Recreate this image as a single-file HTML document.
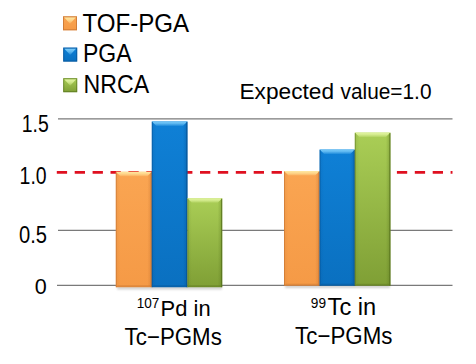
<!DOCTYPE html>
<html><head><meta charset="utf-8">
<style>
html,body{margin:0;padding:0;background:#fff;}
body{width:476px;height:364px;overflow:hidden;font-family:"Liberation Sans",sans-serif;}
svg{display:block;}
text{font-family:"Liberation Sans",sans-serif;fill:#000;}
</style></head><body>
<svg width="476" height="364" viewBox="0 0 476 364">
<defs><linearGradient id="go" x1="0" y1="0" x2="0" y2="1"><stop offset="0" stop-color="#FAA552"/><stop offset="1" stop-color="#F59A46"/></linearGradient><linearGradient id="to" x1="0" y1="0" x2="0" y2="1"><stop offset="0" stop-color="#FFE7A0"/><stop offset="0.45" stop-color="#FFE7A0" stop-opacity="0.75"/><stop offset="1" stop-color="#FFE7A0" stop-opacity="0.15"/></linearGradient><linearGradient id="ro" x1="0" y1="0" x2="1" y2="0"><stop offset="0" stop-color="#B8672A" stop-opacity="0"/><stop offset="1" stop-color="#B8672A" stop-opacity="0.35"/></linearGradient><linearGradient id="lo" x1="0" y1="0" x2="1" y2="0"><stop offset="0" stop-color="#B8672A" stop-opacity="0.15"/><stop offset="1" stop-color="#B8672A" stop-opacity="0"/></linearGradient><linearGradient id="gb" x1="0" y1="0" x2="0" y2="1"><stop offset="0" stop-color="#0F80D6"/><stop offset="1" stop-color="#0A70C0"/></linearGradient><linearGradient id="tb" x1="0" y1="0" x2="0" y2="1"><stop offset="0" stop-color="#7ACCFA"/><stop offset="0.45" stop-color="#7ACCFA" stop-opacity="0.75"/><stop offset="1" stop-color="#7ACCFA" stop-opacity="0.15"/></linearGradient><linearGradient id="rb" x1="0" y1="0" x2="1" y2="0"><stop offset="0" stop-color="#064A88" stop-opacity="0"/><stop offset="1" stop-color="#064A88" stop-opacity="0.35"/></linearGradient><linearGradient id="lb" x1="0" y1="0" x2="1" y2="0"><stop offset="0" stop-color="#064A88" stop-opacity="0.15"/><stop offset="1" stop-color="#064A88" stop-opacity="0"/></linearGradient><linearGradient id="gg" x1="0" y1="0" x2="0" y2="1"><stop offset="0" stop-color="#AACE56"/><stop offset="1" stop-color="#7F9F35"/></linearGradient><linearGradient id="tg" x1="0" y1="0" x2="0" y2="1"><stop offset="0" stop-color="#E2F5A0"/><stop offset="0.45" stop-color="#E2F5A0" stop-opacity="0.75"/><stop offset="1" stop-color="#E2F5A0" stop-opacity="0.15"/></linearGradient><linearGradient id="rg" x1="0" y1="0" x2="1" y2="0"><stop offset="0" stop-color="#4F6A18" stop-opacity="0"/><stop offset="1" stop-color="#4F6A18" stop-opacity="0.35"/></linearGradient><linearGradient id="lg" x1="0" y1="0" x2="1" y2="0"><stop offset="0" stop-color="#4F6A18" stop-opacity="0.15"/><stop offset="1" stop-color="#4F6A18" stop-opacity="0"/></linearGradient><filter id="blur" x="-10%" y="-50%" width="120%" height="200%"><feGaussianBlur stdDeviation="1.2"/></filter></defs>
<rect width="476" height="364" fill="#fff"/>
<g stroke="#7a7a7a" stroke-width="1.15">
<line x1="58" y1="118.8" x2="452.5" y2="118.8"/>
<line x1="58" y1="230.4" x2="452.5" y2="230.4"/>
<line x1="57" y1="285.3" x2="452.5" y2="285.3"/>
</g>
<line x1="56.8" y1="172.3" x2="452.5" y2="172.3" stroke="#DF1020" stroke-width="2.8" stroke-dasharray="10.3 7.6"/>
<g filter="url(#blur)" opacity="0.18">
<rect x="117" y="286.5" width="105" height="3" fill="#000"/>
<rect x="285" y="285" width="105" height="3" fill="#000"/>
</g>
<rect x="115.8" y="171.8" width="36.00" height="115.40" fill="url(#go)"/>
<polygon points="151.8,171.8 147.3,176.3 147.3,285.2 151.8,287.2" fill="url(#ro)"/>
<polygon points="115.8,171.8 120.3,176.3 120.3,285.2 115.8,287.2" fill="url(#lo)"/>
<polygon points="115.8,171.8 151.8,171.8 147.3,176.3 120.3,176.3" fill="url(#to)"/>
<polygon points="115.8,287.2 151.8,287.2 149.8,285.2 117.8,285.2" fill="#B8672A" opacity="0.35"/>
<line x1="151.3" y1="172.3" x2="151.3" y2="287.2" stroke="#B8672A" stroke-width="1" opacity="0.8"/>
<line x1="116.3" y1="172.3" x2="116.3" y2="287.2" stroke="#B8672A" stroke-width="1" opacity="0.45"/><rect x="151.8" y="121.4" width="35.60" height="165.80" fill="url(#gb)"/>
<polygon points="187.4,121.4 182.9,125.9 182.9,285.2 187.4,287.2" fill="url(#rb)"/>
<polygon points="151.8,121.4 156.3,125.9 156.3,285.2 151.8,287.2" fill="url(#lb)"/>
<polygon points="151.8,121.4 187.4,121.4 182.9,125.9 156.3,125.9" fill="url(#tb)"/>
<polygon points="151.8,287.2 187.4,287.2 185.4,285.2 153.8,285.2" fill="#064A88" opacity="0.35"/>
<line x1="186.9" y1="121.9" x2="186.9" y2="287.2" stroke="#064A88" stroke-width="1" opacity="0.8"/>
<line x1="152.3" y1="121.9" x2="152.3" y2="287.2" stroke="#064A88" stroke-width="1" opacity="0.45"/><rect x="187.4" y="198.2" width="34.80" height="89.00" fill="url(#gg)"/>
<polygon points="222.2,198.2 217.7,202.7 217.7,285.2 222.2,287.2" fill="url(#rg)"/>
<polygon points="187.4,198.2 191.9,202.7 191.9,285.2 187.4,287.2" fill="url(#lg)"/>
<polygon points="187.4,198.2 222.2,198.2 217.7,202.7 191.9,202.7" fill="url(#tg)"/>
<polygon points="187.4,287.2 222.2,287.2 220.2,285.2 189.4,285.2" fill="#4F6A18" opacity="0.35"/>
<line x1="221.7" y1="198.7" x2="221.7" y2="287.2" stroke="#4F6A18" stroke-width="1" opacity="0.8"/>
<line x1="187.9" y1="198.7" x2="187.9" y2="287.2" stroke="#4F6A18" stroke-width="1" opacity="0.45"/><rect x="284.0" y="171.1" width="35.60" height="114.60" fill="url(#go)"/>
<polygon points="319.6,171.1 315.1,175.6 315.1,283.7 319.6,285.7" fill="url(#ro)"/>
<polygon points="284.0,171.1 288.5,175.6 288.5,283.7 284.0,285.7" fill="url(#lo)"/>
<polygon points="284.0,171.1 319.6,171.1 315.1,175.6 288.5,175.6" fill="url(#to)"/>
<polygon points="284.0,285.7 319.6,285.7 317.6,283.7 286.0,283.7" fill="#B8672A" opacity="0.35"/>
<line x1="319.1" y1="171.6" x2="319.1" y2="285.7" stroke="#B8672A" stroke-width="1" opacity="0.8"/>
<line x1="284.5" y1="171.6" x2="284.5" y2="285.7" stroke="#B8672A" stroke-width="1" opacity="0.45"/><rect x="319.6" y="149.5" width="35.20" height="136.20" fill="url(#gb)"/>
<polygon points="354.8,149.5 350.3,154.0 350.3,283.7 354.8,285.7" fill="url(#rb)"/>
<polygon points="319.6,149.5 324.1,154.0 324.1,283.7 319.6,285.7" fill="url(#lb)"/>
<polygon points="319.6,149.5 354.8,149.5 350.3,154.0 324.1,154.0" fill="url(#tb)"/>
<polygon points="319.6,285.7 354.8,285.7 352.8,283.7 321.6,283.7" fill="#064A88" opacity="0.35"/>
<line x1="354.3" y1="150.0" x2="354.3" y2="285.7" stroke="#064A88" stroke-width="1" opacity="0.8"/>
<line x1="320.1" y1="150.0" x2="320.1" y2="285.7" stroke="#064A88" stroke-width="1" opacity="0.45"/><rect x="354.8" y="132.6" width="35.60" height="153.10" fill="url(#gg)"/>
<polygon points="390.4,132.6 385.9,137.1 385.9,283.7 390.4,285.7" fill="url(#rg)"/>
<polygon points="354.8,132.6 359.3,137.1 359.3,283.7 354.8,285.7" fill="url(#lg)"/>
<polygon points="354.8,132.6 390.4,132.6 385.9,137.1 359.3,137.1" fill="url(#tg)"/>
<polygon points="354.8,285.7 390.4,285.7 388.4,283.7 356.8,283.7" fill="#4F6A18" opacity="0.35"/>
<line x1="389.9" y1="133.1" x2="389.9" y2="285.7" stroke="#4F6A18" stroke-width="1" opacity="0.8"/>
<line x1="355.3" y1="133.1" x2="355.3" y2="285.7" stroke="#4F6A18" stroke-width="1" opacity="0.45"/>
<rect x="63" y="16.3" width="14" height="14" fill="url(#go)"/><polygon points="64,17.3 76,17.3 70.0,23.8" fill="url(#to)"/><rect x="63.5" y="16.8" width="13" height="13" fill="none" stroke="#B8672A" stroke-width="1" opacity="0.6"/>
<rect x="63.2" y="47.6" width="14" height="14" fill="url(#gb)"/><polygon points="64.2,48.6 76.2,48.6 70.2,55.1" fill="url(#tb)"/><rect x="63.7" y="48.1" width="13" height="13" fill="none" stroke="#064A88" stroke-width="1" opacity="0.6"/>
<rect x="63.2" y="78.2" width="14" height="14" fill="url(#gg)"/><polygon points="64.2,79.2 76.2,79.2 70.2,85.7" fill="url(#tg)"/><rect x="63.7" y="78.7" width="13" height="13" fill="none" stroke="#4F6A18" stroke-width="1" opacity="0.6"/>
<text x="82.5" y="31.7" font-size="25" textLength="106.7" lengthAdjust="spacingAndGlyphs">TOF-PGA</text>
<text x="83" y="62" font-size="25" textLength="48.5" lengthAdjust="spacingAndGlyphs">PGA</text>
<text x="83.6" y="92.9" font-size="25" textLength="65.5" lengthAdjust="spacingAndGlyphs">NRCA</text>
<text x="239.5" y="98.9" font-size="22" textLength="94.5" lengthAdjust="spacingAndGlyphs">Expected</text>
<text x="340.5" y="98.9" font-size="22" textLength="91" lengthAdjust="spacingAndGlyphs">value=1.0</text>
<text x="21.8" y="131.9" font-size="23" textLength="27" lengthAdjust="spacingAndGlyphs">1.5</text>
<text x="19.6" y="183.8" font-size="23" textLength="27" lengthAdjust="spacingAndGlyphs">1.0</text>
<text x="19.0" y="242.8" font-size="23" textLength="28" lengthAdjust="spacingAndGlyphs">0.5</text>
<text x="34.7" y="294.4" font-size="22" textLength="12" lengthAdjust="spacingAndGlyphs">0</text>
<text x="136.8" y="308.4" font-size="14.5" textLength="22.6" lengthAdjust="spacingAndGlyphs">107</text>
<text x="160.6" y="315.5" font-size="22.8" textLength="50" lengthAdjust="spacingAndGlyphs">Pd in</text>
<text x="124.6" y="344.6" font-size="23.5" textLength="97.2" lengthAdjust="spacingAndGlyphs">Tc&#8722;PGMs</text>
<text x="310.8" y="308.2" font-size="14.5" textLength="15.2" lengthAdjust="spacingAndGlyphs">99</text>
<text x="327.6" y="314.7" font-size="23.3" textLength="48.6" lengthAdjust="spacingAndGlyphs">Tc in</text>
<text x="295.1" y="343.6" font-size="23.5" textLength="97.4" lengthAdjust="spacingAndGlyphs">Tc&#8722;PGMs</text>
</svg>
</body></html>
